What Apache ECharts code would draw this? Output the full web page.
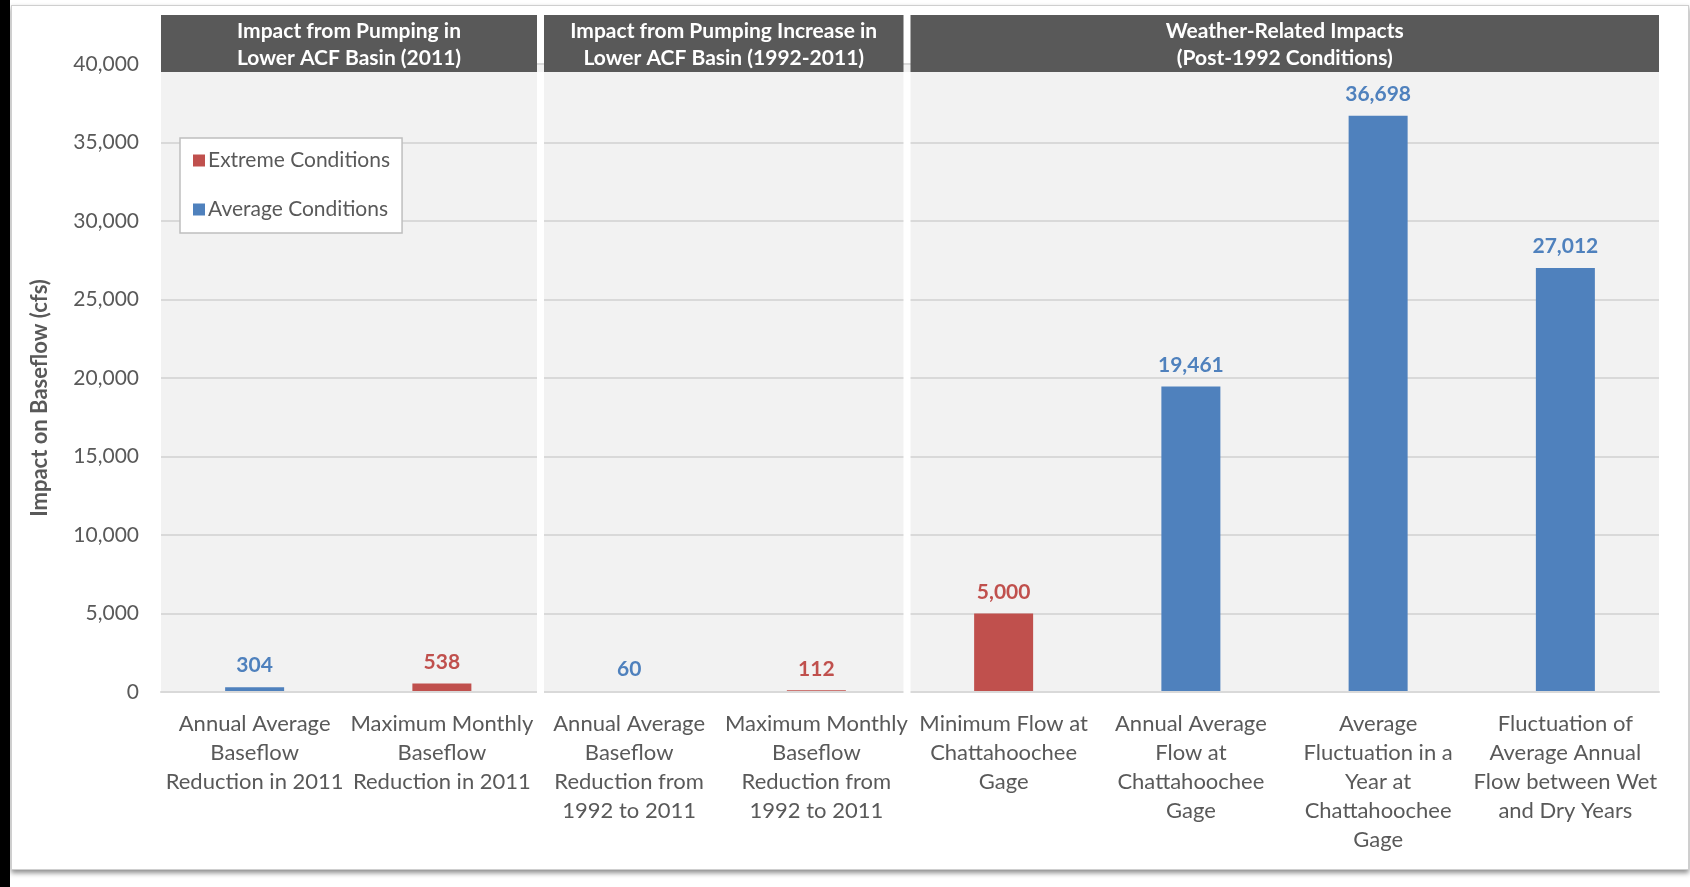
<!DOCTYPE html>
<html><head><meta charset="utf-8">
<script src="https://cdn.jsdelivr.net/npm/echarts@6/dist/echarts.min.js"></script>
<style>
html,body{margin:0;padding:0;background:#fff;width:1690px;height:887px;overflow:hidden;}
#strip{position:absolute;left:0;top:0;width:10px;height:887px;background:#000;}
#card{position:absolute;left:11px;top:5px;width:1676px;height:863px;background:#fff;border:1px solid #cfcfcf;box-shadow:0 3px 5px rgba(0,0,0,0.45);}
#chart{position:absolute;left:0;top:0;width:1690px;height:887px;}
</style></head><body>
<div id="strip"></div><div id="card"></div><div id="chart"></div>
<script>
const categories = [
  'Annual Average\nBaseflow\nReduction in 2011',
  'Maximum Monthly\nBaseflow\nReduction in 2011',
  'Annual Average\nBaseflow\nReduction from\n1992 to 2011',
  'Maximum Monthly\nBaseflow\nReduction from\n1992 to 2011',
  'Minimum Flow at\nChattahoochee\nGage',
  'Annual Average\nFlow at\nChattahoochee\nGage',
  'Average\nFluctuation in a\nYear at\nChattahoochee\nGage',
  'Fluctuation of\nAverage Annual\nFlow between Wet\nand Dry Years'
];
const extremeValues = [null, 538, null, 112, 5000, null, null, null];
const averageValues = [304, null, 60, null, null, 19461, 36698, 27012];
const panelTitles = [
  'Impact from Pumping in\nLower ACF Basin (2011)',
  'Impact from Pumping Increase in\nLower ACF Basin (1992-2011)',
  'Weather-Related Impacts\n(Post-1992 Conditions)'
];
const panelFirst = [0, 2, 4];
const panelLast = [1, 3, 7];
const yMin = 0, yMax = 40000, yInterval = 5000;

const FONT = 'Lato';
const RED = '#c0504d', BLUE = '#4f81bd', GREY = '#595959';
const fmt = v => Number(v).toLocaleString('en-US');

const chart = echarts.init(document.getElementById('chart'));
const option = {
  animation: false,
  textStyle: { fontFamily: FONT },
  grid: { left: 161, right: 31, top: 64, bottom: 195, show: true, backgroundColor: '#f2f2f2', borderWidth: 0 },
  legend: {
    orient: 'vertical', left: 180, top: 138,
    padding: [12, 12, 13, 13], itemGap: 28, itemWidth: 12, itemHeight: 12,
    icon: 'rect', backgroundColor: '#fff', borderColor: '#bfbfbf', borderWidth: 1.5,
    textStyle: { fontFamily: FONT, fontSize: 21, color: GREY, padding: [0, 0, 0, -2] },
    data: ['Extreme Conditions', 'Average Conditions']
  },
  xAxis: {
    type: 'category', data: categories, z: 3,
    axisTick: { show: false },
    axisLine: { show: true, lineStyle: { color: '#d9d9d9', width: 2 } },
    axisLabel: { interval: 0, margin: 17, color: GREY, fontSize: 22, lineHeight: 29, fontFamily: FONT }
  },
  yAxis: {
    type: 'value', min: yMin, max: yMax, interval: yInterval,
    name: 'Impact on Baseflow (cfs)', nameLocation: 'middle', nameGap: 110, nameRotate: 90,
    nameTextStyle: { color: GREY, fontSize: 22, fontWeight: 'bold', fontFamily: FONT, padding: [0, 40, 0, 0] },
    axisLine: { show: false }, axisTick: { show: false },
    axisLabel: { margin: 22, color: GREY, fontSize: 21, fontFamily: FONT, formatter: fmt },
    splitLine: { lineStyle: { color: '#d9d9d9', width: 2 } }
  },
  series: [
    {
      name: 'Extreme Conditions', type: 'bar', data: extremeValues, barWidth: 59, barGap: '-100%',
      itemStyle: { color: RED },
      label: { show: true, position: 'top', distance: 11, color: RED, fontWeight: 'bold', fontSize: 21, fontFamily: FONT,
        formatter: p => fmt(p.value) }
    },
    {
      name: 'Average Conditions', type: 'bar', data: averageValues, barWidth: 59, barGap: '-100%',
      itemStyle: { color: BLUE },
      label: { show: true, position: 'top', distance: 11, color: BLUE, fontWeight: 'bold', fontSize: 21, fontFamily: FONT,
        formatter: p => fmt(p.value) }
    }
  ]
};
chart.setOption(option);

function drawPanels() {
  const px = i => chart.convertToPixel({ xAxisIndex: 0 }, i);
  const step = px(1) - px(0);
  const gap = 7;
  const sepShift = [5, -3];
  const headTop = 15, headBottom = 72;
  const plotBottom = chart.convertToPixel({ yAxisIndex: 0 }, yMin);
  const bounds = [px(0) - step / 2];
  for (let k = 0; k < panelTitles.length - 1; k++) bounds.push(px(panelLast[k]) + step / 2 + sepShift[k]);
  bounds.push(px(panelLast[panelTitles.length - 1]) + step / 2);
  const elems = [];
  for (let k = 0; k < panelTitles.length; k++) {
    let x0 = bounds[k], x1 = bounds[k + 1];
    if (k > 0) x0 += gap / 2;
    if (k < panelTitles.length - 1) x1 -= gap / 2;
    elems.push({
      type: 'rect', z: 5,
      shape: { x: x0, y: headTop, width: x1 - x0, height: headBottom - headTop },
      style: { fill: '#595959' }
    });
    elems.push({
      type: 'text', z: 6,
      x: (x0 + x1) / 2, y: (headTop + headBottom) / 2 + 1,
      style: { text: panelTitles[k], fill: '#fff', font: 'bold 21px ' + FONT, align: 'center', verticalAlign: 'middle', lineHeight: 27 }
    });
    if (k < panelTitles.length - 1) {
      const b = bounds[k + 1];
      elems.push({
        type: 'rect', z: 5,
        shape: { x: b - gap / 2, y: headBottom, width: gap, height: plotBottom + 2 - headBottom },
        style: { fill: '#fff' }
      });
    }
  }
  chart.setOption({ graphic: { elements: elems } });
}
drawPanels();
</script>
</body></html>
